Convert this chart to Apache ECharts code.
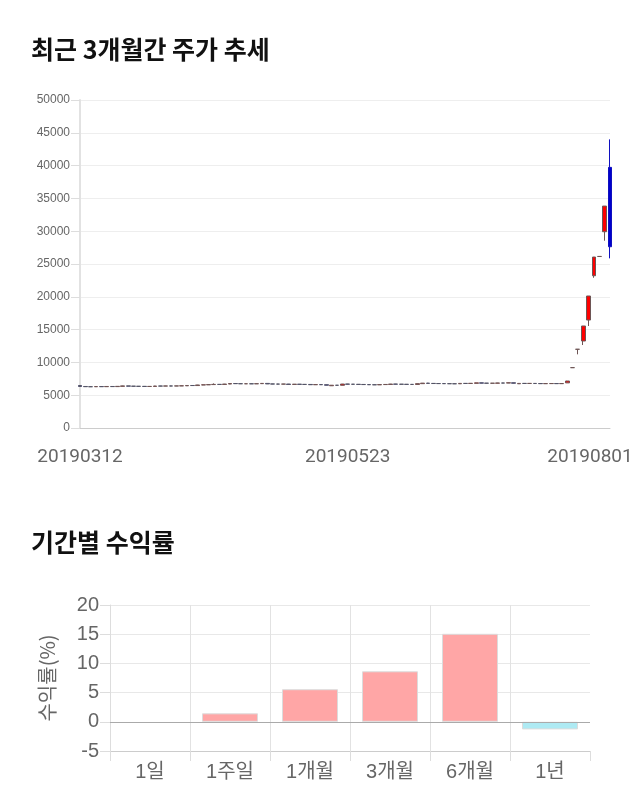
<!DOCTYPE html>
<html><head><meta charset="utf-8">
<script src="https://cdn.jsdelivr.net/npm/echarts@6/dist/echarts.min.js"></script>
<style>html,body{margin:0;padding:0;background:#fff}#c{width:640px;height:810px}</style>
</head><body><div id="c"></div>
<script>
// ---- data ----
const dates = [
'20190312','20190313','20190314','20190315','20190318','20190319','20190320','20190321','20190322','20190325','20190326','20190327','20190328','20190329',
'20190401','20190402','20190403','20190404','20190405','20190408','20190409','20190410','20190411','20190412','20190415','20190416','20190417','20190418','20190419','20190422','20190423','20190424','20190425','20190426','20190429','20190430',
'20190502','20190503','20190507','20190508','20190509','20190510','20190513','20190514','20190515','20190516','20190517','20190520','20190521','20190522','20190523','20190524','20190527','20190528','20190529','20190530','20190531',
'20190603','20190604','20190605','20190607','20190610','20190611','20190612','20190613','20190614','20190617','20190618','20190619','20190620','20190621','20190624','20190625','20190626','20190627','20190628',
'20190701','20190702','20190703','20190704','20190705','20190708','20190709','20190710','20190711','20190712','20190715','20190716','20190717','20190718','20190719','20190722','20190723','20190724','20190725','20190726','20190729','20190730','20190731',
'20190801'];
// [open, close, low, high]
const ohlc = [
[6480,6330,6300,6500],[6330,6300,6250,6380],[6300,6290,6250,6350],[6290,6320,6260,6350],[6320,6300,6270,6360],
[6300,6330,6280,6360],[6330,6310,6290,6350],[6310,6350,6300,6380],[6350,6420,6330,6450],[6420,6380,6350,6430],
[6380,6360,6330,6400],[6360,6350,6320,6390],[6350,6330,6300,6370],[6330,6340,6310,6360],[6340,6400,6330,6420],
[6400,6390,6370,6420],[6390,6410,6380,6430],[6410,6400,6380,6440],[6400,6420,6390,6440],[6420,6430,6400,6450],
[6430,6480,6420,6500],[6480,6470,6450,6500],[6470,6560,6460,6580],[6560,6580,6540,6600],[6580,6620,6560,6640],
[6620,6650,6600,6800],[6650,6640,6620,6680],[6640,6700,6630,6720],[6700,6780,6680,6800],[6780,6760,6740,6800],
[6760,6740,6720,6780],[6740,6750,6720,6770],[6750,6730,6710,6770],[6730,6760,6720,6780],[6760,6800,6740,6820],
[6800,6720,6700,6830],[6720,6700,6680,6740],[6700,6690,6670,6730],[6690,6700,6670,6720],[6700,6640,6620,6720],
[6640,6680,6620,6700],[6680,6650,6630,6700],[6650,6640,6620,6680],[6640,6600,6580,6650],[6600,6620,6590,6650],
[6620,6600,6580,6700],[6600,6520,6500,6620],[6440,6520,6420,6540],[6520,6510,6490,6540],[6510,6700,6500,6720],
[6700,6680,6660,6720],[6680,6660,6640,6700],[6660,6640,6620,6680],[6640,6620,6600,6660],[6620,6600,6580,6650],
[6600,6580,6560,6620],[6580,6620,6570,6640],[6620,6640,6600,6660],[6640,6700,6620,6720],[6700,6680,6660,6720],
[6680,6660,6640,6700],[6660,6650,6630,6680],[6650,6640,6620,6670],[6640,6760,6630,6780],[6760,6840,6740,6860],
[6840,6800,6780,6880],[6800,6780,6760,6820],[6780,6770,6750,6800],[6770,6760,6740,6790],[6760,6750,6730,6780],
[6750,6740,6720,6770],[6740,6800,6730,6820],[6800,6790,6770,6820],[6790,6810,6780,6830],[6810,6880,6800,6900],
[6880,6840,6820,6900],[6840,6820,6800,6860],[6820,6830,6800,6860],[6830,6860,6810,6880],[6860,6850,6830,6880],
[6850,6900,6840,6920],[6900,6820,6800,6910],[6740,6800,6720,6820],[6800,6790,6770,6820],[6790,6800,6770,6820],
[6800,6780,6760,6820],[6780,6760,6740,6800],[6760,6770,6740,6790],[6770,6780,6750,6800],[6780,6760,6740,6800],
[6760,6780,6740,6800],[6880,7160,6860,7180],[9200,9200,9200,9200],[12000,12000,11230,12000],[13260,15550,12650,15550],
[16460,20120,15550,20120],[23210,26060,22900,26060],[26150,26150,26150,26150],[29920,33830,28550,33830],[39730,27630,25860,44000]
];
const dateLabelIdx = [0, 50, 99];
const periods = ['1일','1주일','1개월','3개월','6개월','1년'];
const returns = [0, 1.45, 5.58, 8.65, 15.07, -1.3];

// ---- chart ----
const chart = echarts.init(document.getElementById('c'), null, {renderer:'canvas'});
const grayText = '#666';
const dateFont = 'Roboto, Liberation Sans, sans-serif';
const lastIdx = ohlc.length - 1;
const candleData = ohlc.map((d, i) => i === lastIdx
  ? {value: d, itemStyle: {borderColor0: '#1010c0'}} : d);
const option = {
  animation: false,
  backgroundColor: '#fff',
  title: [
    {text:'최근 3개월간 주가 추세', left:31, top:37, padding:0,
     textStyle:{fontFamily:'Noto Sans CJK KR', fontSize:25, fontWeight:'bold', color:'#111'}},
    {text:'기간별 수익률', left:31, top:530, padding:0,
     textStyle:{fontFamily:'Noto Sans CJK KR', fontSize:25, fontWeight:'bold', color:'#111'}}
  ],
  grid: [
    {left:80, width:530, top:100, height:328},
    {left:110, width:480, top:605, height:146}
  ],
  xAxis: [
    {type:'category', gridIndex:0, data:dates, boundaryGap:false,
     axisLine:{lineStyle:{color:'#ccc'}}, axisTick:{show:false}, splitLine:{show:false},
     axisLabel:{
       interval:(i)=>dateLabelIdx.indexOf(i)>=0,
       margin:20, color:grayText, fontSize:19, fontFamily:dateFont,
       formatter:(v,i)=> i===dates.length-1 ? '{r|'+v+'}' : v,
       rich:{r:{padding:[0,40,0,0], color:grayText, fontSize:19, fontFamily:dateFont}}
     }},
    {type:'category', gridIndex:1, data:periods,
     axisLine:{onZero:false, lineStyle:{color:'#ccc'}},
     axisTick:{show:true, length:10, lineStyle:{color:'#ddd'}},
     splitLine:{show:true, showMaxLine:false, lineStyle:{color:'#e2e2e2'}},
     axisLabel:{margin:11, color:grayText, fontSize:20, fontFamily:'Liberation Sans, Noto Sans CJK KR'}}
  ],
  yAxis: [
    {type:'value', gridIndex:0, min:0, max:50000, interval:5000,
     axisLine:{show:true, lineStyle:{color:'#e2e2e2', width:2}},
     axisTick:{show:true, length:9, lineStyle:{color:'#ddd'}},
     splitLine:{lineStyle:{color:'#eee'}},
     axisLabel:{margin:10, color:grayText, fontSize:12, fontFamily:'Liberation Sans, Arial', formatter:(v)=>String(v)}},
    {type:'value', gridIndex:1, min:-5, max:20, interval:5,
     name:'수익률(%)', nameLocation:'middle', nameGap:53,
     nameTextStyle:{color:grayText, fontSize:20, fontFamily:'Noto Sans CJK KR, Liberation Sans'},
     axisLine:{show:true, lineStyle:{color:'#ddd'}},
     axisTick:{show:true, length:10, lineStyle:{color:'#ddd'}},
     splitLine:{lineStyle:{color:'#e8e8e8'}},
     axisLabel:{margin:11, color:grayText, fontSize:20, fontFamily:'Liberation Sans, Arial'}}
  ],
  series: [
    {type:'candlestick', xAxisIndex:0, yAxisIndex:0, data:candleData, barWidth:'80%', clip:true,
     itemStyle:{color:'#ff0000', color0:'#0000cc', borderColor:'#6e5555', borderColor0:'#555566', borderWidth:1}},
    {type:'bar', xAxisIndex:1, yAxisIndex:1, barWidth:'70%',
     data: returns.map(v => v === 0 ? {value:v, itemStyle:{borderWidth:0}} : v),
     itemStyle:{color:(p)=> p.value>=0 ? '#ffa6a6' : '#aeeaf3', borderColor:'#dcdcdc', borderWidth:1},
     markLine:{silent:true, symbol:'none', label:{show:false}, lineStyle:{color:'#aaa', type:'solid', width:1},
       data:[{yAxis:0}]}}
  ]
};
chart.setOption(option);
</script>
</body></html>
